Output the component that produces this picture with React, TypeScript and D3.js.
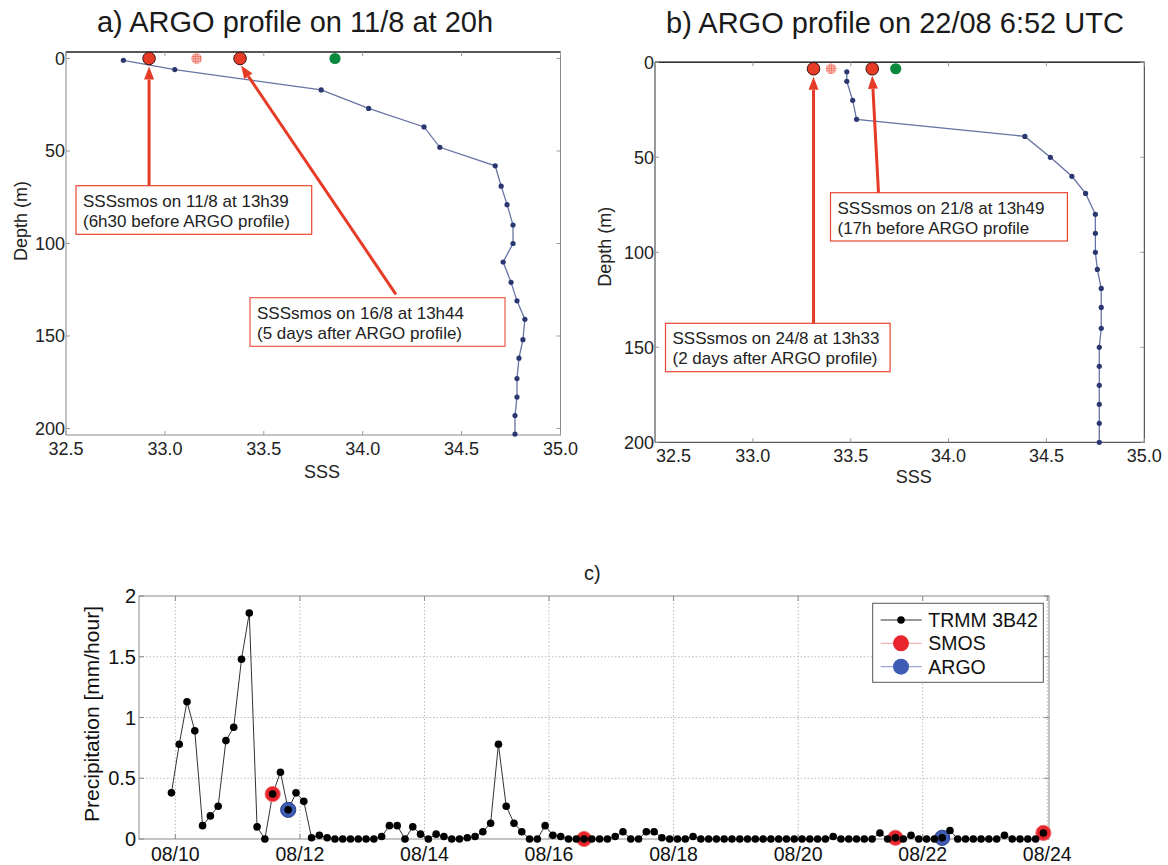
import React from 'react';
import * as d3 from 'd3';

const FONT = 'Liberation Sans, Arial, Helvetica, sans-serif';

// a) ARGO profile on 11/8 at 20h
const depthA = [1, 6, 17, 27, 37, 48, 58, 69, 79, 90, 100, 110, 121, 131, 141, 152, 162, 173, 183, 193, 203];
const sssA = [32.79, 33.05, 33.79, 34.03, 34.31, 34.39, 34.67, 34.7, 34.73, 34.76, 34.76, 34.71, 34.75, 34.78, 34.82, 34.81, 34.79, 34.78, 34.78, 34.77, 34.77];
const smosA = [32.92, 33.38];
const pinkA = 33.16;
const greenA = 33.86;
const markDepthA = 0;

// b) ARGO profile on 22/08 6:52 UTC
const depthB = [5, 10, 20, 30, 39, 50, 60, 69, 80, 90, 100, 109, 119, 129, 140, 150, 160, 170, 180, 190, 200];
const sssB = [33.48, 33.48, 33.51, 33.53, 34.39, 34.52, 34.63, 34.7, 34.75, 34.75, 34.75, 34.76, 34.78, 34.78, 34.78, 34.77, 34.77, 34.77, 34.77, 34.77, 34.77];
const smosB = [33.31, 33.61];
const pinkB = 33.4;
const greenB = 33.73;
const markDepthB = 3.4;

const sssTicks = [32.5, 33.0, 33.5, 34.0, 34.5, 35.0];
const depthTicks = [0, 50, 100, 150, 200];

// c) TRMM 3B42, 3-hourly from 09/08 22:30
const trmmStart = Date.UTC(2010, 7, 9, 22, 30);
const trmm = [
  0.38, 0.78, 1.13, 0.89, 0.11, 0.19, 0.27, 0.81, 0.92, 1.48,
  1.86, 0.1, 0.0, 0.37, 0.55, 0.24, 0.38, 0.31, 0.01, 0.03,
  0.01, 0.0, 0.0, 0.0, 0.0, 0.0, 0.0, 0.02, 0.11, 0.11,
  0.0, 0.1, 0.04, 0.0, 0.04, 0.02, 0.0, 0.0, 0.01, 0.02,
  0.06, 0.13, 0.78, 0.27, 0.13, 0.06, 0.0, 0.0, 0.11, 0.03,
  0.02, 0.0, 0.0, 0.0, 0.0, 0.0, 0.0, 0.02, 0.06, 0.0,
  0.0, 0.06, 0.06, 0.01, 0.0, 0.0, 0.0, 0.02, 0.0, 0.0,
  0.0, 0.0, 0.0, 0.0, 0.0, 0.0, 0.0, 0.0, 0.0, 0.0,
  0.0, 0.0, 0.0, 0.0, 0.0, 0.02, 0.0, 0.0, 0.0, 0.0,
  0.0, 0.05, 0.0, 0.01, 0.0, 0.03, 0.0, 0.0, 0.0, 0.01,
  0.07, 0.0, 0.0, 0.0, 0.0, 0.0, 0.0, 0.03, 0.0, 0.0,
  0.0, 0.0, 0.05,
];
const smosIdx = [13, 53, 93, 112];
const argoIdx = [15, 99];
const precipTicks = [0, 0.5, 1, 1.5, 2];
const dateTicks = ['2010-08-10', '2010-08-12', '2010-08-14', '2010-08-16', '2010-08-18', '2010-08-20', '2010-08-22', '2010-08-24'];

const RED = '#e63b27';

const Arrow = ({ x1, y1, x2, y2 }) => {
  const a = Math.atan2(y2 - y1, x2 - x1);
  const hl = 13, hw = 5;
  const bx = x2 - hl * Math.cos(a), by = y2 - hl * Math.sin(a);
  const px = -Math.sin(a) * hw, py = Math.cos(a) * hw;
  return (
    <g>
      <line x1={x1} y1={y1} x2={bx} y2={by} stroke={RED} strokeWidth={3} />
      <polygon points={`${x2},${y2} ${bx + px},${by + py} ${bx - px},${by - py}`} fill={RED} />
    </g>
  );
};

const NoteBox = ({ x, y, w, h, lines, stroke }) => (
  <g>
    <rect x={x} y={y} width={w} height={h} fill="white" stroke={stroke} strokeWidth={1.2} />
    {lines.map((t, i) => (
      <text key={i} x={x + 7} y={y + 21 + i * 20} fontSize={17} fill="#222" fontFamily={FONT}>{t}</text>
    ))}
  </g>
);

const Profile = ({ title, titleX, titleY, x, y, depth, sss, smos, pink, green, markDepth, frame, labelY, firstLabelStart, depthLabel, sssLabel, notes, arrows }) => {
  const [x0, x1] = x.range();
  const [y0, y1] = [y(y.domain()[0]), y(y.domain()[1])];
  const path = d3.line<number>().x((_, i) => x(sss[i])).y((_, i) => y(depth[i]))(depth);
  const my = y(markDepth);
  return (
    <g fontFamily={FONT}>
      <text x={titleX} y={titleY} fontSize={29} textAnchor="middle" fill="#1a1a1a">{title}</text>
      <rect x={x0} y={y0} width={x1 - x0} height={y1 - y0} fill="white" stroke={frame} strokeWidth={1} />
      <line x1={x0} x2={x1} y1={y0} y2={y0} stroke="#333" strokeWidth={1.5} />
      {sssTicks.map((t, i) => (
        <g key={t}>
          <line x1={x(t)} x2={x(t)} y1={y0} y2={y0 + 4} stroke="#999" />
          <line x1={x(t)} x2={x(t)} y1={y1} y2={y1 - 4} stroke="#999" />
          <text
            x={i === 0 && firstLabelStart ? x(t) + 1 : x(t)} y={labelY} fontSize={18}
            textAnchor={i === 0 && firstLabelStart ? 'start' : 'middle'} fill="#222"
          >{t.toFixed(1)}</text>
        </g>
      ))}
      {depthTicks.map((t) => (
        <g key={t}>
          <line x1={x0} x2={x0 + 4} y1={y(t)} y2={y(t)} stroke="#999" />
          <line x1={x1} x2={x1 - 4} y1={y(t)} y2={y(t)} stroke="#999" />
          <text x={x0 - 1} y={y(t)} dy="0.36em" fontSize={18} textAnchor="end" fill="#222">{t}</text>
        </g>
      ))}
      <path d={path} fill="none" stroke="#6673a3" strokeWidth={1.3} />
      {depth.map((d, i) => (
        <circle key={i} cx={x(sss[i])} cy={y(d)} r={2.6} fill="#2b3770" />
      ))}
      <circle cx={x(pink)} cy={my} r={5.3} fill="url(#dotted)" />
      <circle cx={x(green)} cy={my} r={5.6} fill="#0b8a3e" />
      {smos.map((s, i) => (
        <circle key={i} cx={x(s)} cy={my} r={6.3} fill={RED} stroke="#3a1510" strokeWidth={1} />
      ))}
      {notes.map((n, i) => <NoteBox key={i} {...n} />)}
      {arrows.map((a, i) => <Arrow key={i} {...a} />)}
      <text x={sssLabel[0]} y={sssLabel[1]} fontSize={18} textAnchor="middle" fill="#222">SSS</text>
      <text transform={`translate(${depthLabel[0]},${depthLabel[1]}) rotate(-90)`} fontSize={18} textAnchor="middle" dy="0.35em" fill="#222">Depth (m)</text>
    </g>
  );
};

const Precip = () => {
  const x = d3.scaleUtc().domain([Date.UTC(2010, 7, 9, 10, 0), Date.UTC(2010, 7, 24, 0, 40)]).range([139, 1049]);
  const y = d3.scaleLinear().domain([0, 2]).range([839, 596]);
  const times = trmm.map((_, i) => new Date(trmmStart + i * 3 * 3600 * 1000));
  const path = d3.line<number>().x((_, i) => x(times[i])).y((d) => y(d))(trmm);
  const fmt = d3.utcFormat('%m/%d');
  const [xl, xr] = x.range();
  const [yb, yt] = y.range();
  return (
    <g fontFamily={FONT}>
      <text x={584} y={580} fontSize={20} fill="#222">c)</text>
      <rect x={xl} y={yt} width={xr - xl} height={yb - yt} fill="white" stroke="#8a8a8a" />
      {dateTicks.map((s) => {
        const d = new Date(s + 'T00:00:00Z');
        return (
          <g key={s}>
            <line x1={x(d)} x2={x(d)} y1={yt} y2={yb} stroke="#bbb" strokeDasharray="1.5,2" />
            <line x1={x(d)} x2={x(d)} y1={yb} y2={yb - 5} stroke="#888" />
            <line x1={x(d)} x2={x(d)} y1={yt} y2={yt + 5} stroke="#888" />
            <text x={x(d)} y={861} fontSize={19.5} textAnchor="middle" fill="#111">{fmt(d)}</text>
          </g>
        );
      })}
      {precipTicks.map((t) => (
        <g key={t}>
          {t > 0 && t < 2 && <line x1={xl} x2={xr} y1={y(t)} y2={y(t)} stroke="#bbb" strokeDasharray="1.5,2" />}
          <line x1={xl} x2={xl + 5} y1={y(t)} y2={y(t)} stroke="#888" />
          <line x1={xr} x2={xr - 5} y1={y(t)} y2={y(t)} stroke="#888" />
          <text x={136} y={y(t)} dy="0.36em" fontSize={20} textAnchor="end" fill="#111">{t}</text>
        </g>
      ))}
      <path d={path} fill="none" stroke="#333" strokeWidth={1} />
      {smosIdx.map((k) => (
        <circle key={'s' + k} cx={x(times[k])} cy={y(trmm[k])} r={7.6} fill="#e8242c" stroke="#f07070" strokeWidth={1} />
      ))}
      {argoIdx.map((k) => (
        <circle key={'a' + k} cx={x(times[k])} cy={y(trmm[k])} r={7.6} fill="#3f5cb5" stroke="#2b3f8a" strokeWidth={1} />
      ))}
      {trmm.map((d, i) => (
        <circle key={i} cx={x(times[i])} cy={y(d)} r={3.8} fill="#000" />
      ))}
      <text transform="translate(92,714) rotate(-90)" fontSize={21} textAnchor="middle" dy="0.35em" fill="#111">Precipitation [mm/hour]</text>
      <g>
        <rect x={872.7} y={603.3} width={170.6} height={79} fill="white" stroke="#555" />
        <line x1={880.7} x2={921.7} y1={620} y2={620} stroke="#333" />
        <circle cx={901} cy={620} r={3.8} fill="#000" />
        <text x={928.3} y={620} dy="0.36em" fontSize={19.5} fill="#111">TRMM 3B42</text>
        <line x1={880.7} x2={921.7} y1={643.3} y2={643.3} stroke="#f2a0a0" />
        <circle cx={901} cy={643.3} r={8} fill="#e8242c" />
        <text x={928.3} y={643.3} dy="0.36em" fontSize={19.5} fill="#111">SMOS</text>
        <line x1={880.7} x2={921.7} y1={666.7} y2={666.7} stroke="#8090cc" />
        <circle cx={901} cy={666.7} r={8} fill="#3f5cb5" />
        <text x={928.3} y={666.7} dy="0.36em" fontSize={19.5} fill="#111">ARGO</text>
      </g>
    </g>
  );
};

export default function App() {
  const xA = d3.scaleLinear().domain([32.5, 35]).range([66, 560.5]);
  const yA = d3.scaleLinear().domain([-3.5, 203.5]).range([52, 435]);
  const xB = d3.scaleLinear().domain([32.5, 35]).range([655, 1144.3]);
  const yB = d3.scaleLinear().domain([0, 200]).range([62.3, 442.3]);

  const notesA = [
    { x: 76, y: 185.7, w: 235.7, h: 48.6, stroke: '#e8452f', lines: ['SSSsmos on 11/8 at 13h39', '(6h30 before ARGO profile)'] },
    { x: 250, y: 297.7, w: 255, h: 48.6, stroke: '#ee5a48', lines: ['SSSsmos on 16/8 at 13h44', '(5 days after ARGO profile)'] },
  ];
  const arrowsA = [
    { x1: xA(smosA[0]), y1: 185.7, x2: xA(smosA[0]), y2: yA(markDepthA) + 8 },
    { x1: 395.9, y1: 294.3, x2: xA(smosA[1]) + 1, y2: yA(markDepthA) + 7 },
  ];
  const notesB = [
    { x: 830.5, y: 192.7, w: 236.9, h: 48.3, stroke: '#e8452f', lines: ['SSSsmos on 21/8 at 13h49', '(17h before ARGO profile'] },
    { x: 665.5, y: 323.3, w: 224.6, h: 48.4, stroke: '#e8452f', lines: ['SSSsmos on 24/8 at 13h33', '(2 days after ARGO profile)'] },
  ];
  const arrowsB = [
    { x1: xB(smosB[0]), y1: 323.3, x2: xB(smosB[0]), y2: yB(markDepthB) + 8 },
    { x1: 878.5, y1: 192.7, x2: xB(smosB[1]), y2: yB(markDepthB) + 7 },
  ];

  return (
    <svg width={1168} height={865} style={{ position: 'absolute', left: 0, top: 0, background: 'white' }}>
      <defs>
        <pattern id="dotted" width={2.4} height={2.4} patternUnits="userSpaceOnUse">
          <rect width={2.4} height={2.4} fill="#f9c4bc" />
          <circle cx={1.2} cy={1.2} r={0.8} fill="#e8402a" />
        </pattern>
      </defs>
      <rect width={1168} height={865} fill="white" />
      <Profile
        title="a) ARGO profile on 11/8 at 20h" titleX={295} titleY={32}
        x={xA} y={yA} depth={depthA} sss={sssA} smos={smosA} pink={pinkA} green={greenA} markDepth={markDepthA}
        frame="#8a8a8a" labelY={455} firstLabelStart={false} depthLabel={[20.3, 221]} sssLabel={[321.9, 478]}
        notes={notesA} arrows={arrowsA}
      />
      <Profile
        title="b) ARGO profile on 22/08 6:52 UTC" titleX={895} titleY={33}
        x={xB} y={yB} depth={depthB} sss={sssB} smos={smosB} pink={pinkB} green={greenB} markDepth={markDepthB}
        frame="#333" labelY={462} firstLabelStart={true} depthLabel={[604.4, 246.7]} sssLabel={[913.7, 483]}
        notes={notesB} arrows={arrowsB}
      />
      <Precip />
    </svg>
  );
}
